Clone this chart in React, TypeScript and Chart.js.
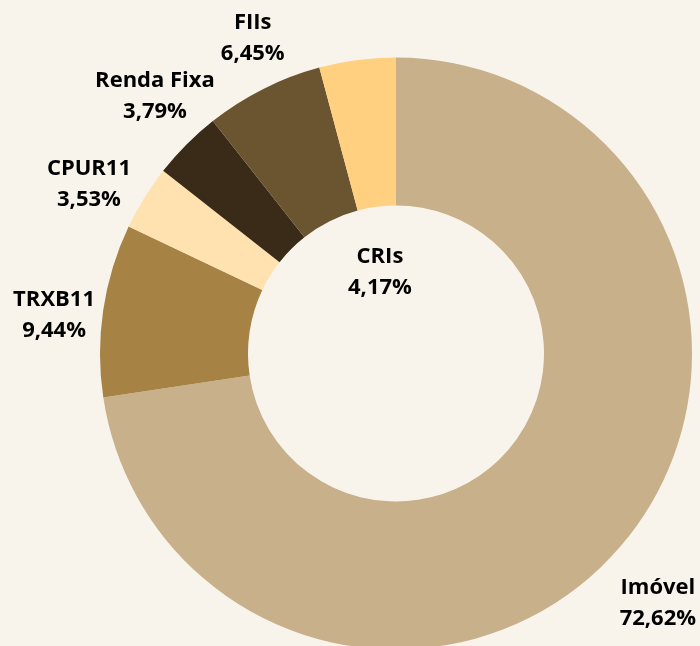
import React, { useEffect, useRef } from "react";
import { Chart, registerables } from "chart.js";

Chart.register(...registerables);

const categories = ["Imóvel", "TRXB11", "CPUR11", "Renda Fixa", "FIIs", "CRIs"];
const values = [72.62, 9.44, 3.53, 3.79, 6.45, 4.17];
const valueLabels = ["72,62%", "9,44%", "3,53%", "3,79%", "6,45%", "4,17%"];
const colors = ["#C7B08A", "#A68245", "#FFE2B0", "#3A2B18", "#6B5430", "#FFD080"];

const BG = "#F8F4EC";

// label placement relative to each arc: radius as a fraction of the outer radius, and angular nudge in degrees
const labelLayout = {
  radiusFactor: [1.218, 1.163, 1.188, 1.195, 1.175, 0.284],
  angleNudge: [2.7, -1.8, -2.6, 2.1, 2.3, -3.5],
};

const labelPlugin = {
  id: "sliceLabels",
  afterDatasetsDraw(chart: any) {
    const ctx = chart.ctx;
    const meta = chart.getDatasetMeta(0);
    ctx.save();
    ctx.font = "bold 22px 'Open Sans'";
    ctx.fillStyle = "#000000";
    ctx.textAlign = "center";
    ctx.textBaseline = "alphabetic";
    meta.data.forEach((arc: any, i: number) => {
      const p = arc.getProps(["x", "y", "startAngle", "endAngle", "outerRadius"], true);
      const mid = (p.startAngle + p.endAngle) / 2 + (labelLayout.angleNudge[i] * Math.PI) / 180;
      const r = p.outerRadius * labelLayout.radiusFactor[i];
      const cx = p.x + Math.cos(mid) * r;
      const cy = p.y + Math.sin(mid) * r;
      const capHalf = 8;
      ctx.fillText(categories[i], cx, cy - 15.5 + capHalf);
      ctx.fillText(valueLabels[i], cx, cy + 15.5 + capHalf);
    });
    ctx.restore();
  },
};

export default function App() {
  const ref = useRef<HTMLCanvasElement | null>(null);
  useEffect(() => {
    document.body.style.margin = "0";
    document.body.style.background = BG;
    document.body.style.overflow = "hidden";
    const chart = new Chart(ref.current as HTMLCanvasElement, {
      type: "doughnut",
      data: {
        labels: categories,
        datasets: [
          {
            data: values,
            backgroundColor: colors,
            borderWidth: 0,
            hoverOffset: 0,
          },
        ],
      },
      options: {
        responsive: false,
        animation: false,
        cutout: "50%",
        layout: { padding: { left: 100, right: 8, top: 57, bottom: 0 } },
        plugins: {
          legend: { display: false },
          tooltip: { enabled: false },
        },
      },
      plugins: [labelPlugin],
    });
    return () => chart.destroy();
  }, []);
  return (
    <div style={{ width: 700, height: 646, background: BG, overflow: "hidden" }}>
      <canvas ref={ref} width={700} height={650} />
    </div>
  );
}
